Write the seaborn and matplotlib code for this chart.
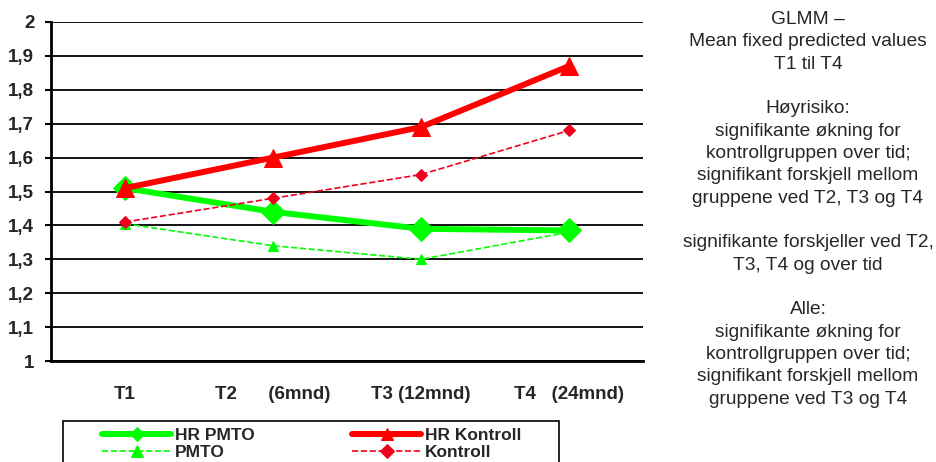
import numpy as np
import pandas as pd
import matplotlib
matplotlib.use("Agg")
import matplotlib.pyplot as plt
from matplotlib.patches import Rectangle
import seaborn as sns

# data
times = ["T1", "T2", "T3", "T4"]
tick_labels = ["T1", "T2      (6mnd)", "T3 (12mnd)", "T4   (24mnd)"]
hr_pmto = [1.51, 1.44, 1.39, 1.385]
pmto = [1.405, 1.34, 1.30, 1.38]
hr_kontroll = [1.51, 1.60, 1.69, 1.87]
kontroll = [1.41, 1.48, 1.55, 1.68]

note = ("GLMM \u2013\nMean fixed predicted values\nT1 til T4\n\n"
        "H\u00f8yrisiko:\nsignifikante \u00f8kning for\nkontrollgruppen over tid;\n"
        "signifikant forskjell mellom\ngruppene ved T2, T3 og T4\n\n"
        "signifikante forskjeller ved T2,\nT3, T4 og over tid\n\n"
        "Alle:\nsignifikante \u00f8kning for\nkontrollgruppen over tid;\n"
        "signifikant forskjell mellom\ngruppene ved T3 og T4")

sns.set_style("white")
plt.rcParams['font.family'] = ['Liberation Sans', 'DejaVu Sans']

fig = plt.figure(figsize=(9.37, 4.62), dpi=100)
ax = fig.add_axes([51/937, 1-361/462, 592/937, 339/462])

x = np.arange(len(times))
green = "#00FF00"
red = "#FF0000"

# order: column-major for 2-col legend
series = [
    ("HR PMTO", hr_pmto, green, "-", 4.3, "D", 12),
    ("PMTO", pmto, green, "--", 1.2, "^", 7.5),
    ("HR Kontroll", hr_kontroll, red, "-", 4.3, "^", 13),
    ("Kontroll", kontroll, "#F0001C", "--", 1.2, "D", 6),
]
for name, vals, col, ls, lw, mk, ms in series:
    df = pd.DataFrame({"x": x, "y": vals})
    sns.lineplot(data=df, x="x", y="y", ax=ax, color=col, linestyle=ls,
                 linewidth=lw, marker=mk, markersize=ms, markeredgecolor=col,
                 label=name, zorder=3)

ax.set_xlim(-0.5, 3.5)
ax.set_ylim(1, 2)
yt = np.arange(1, 2.01, 0.1)
ax.set_yticks(yt)
ax.set_yticklabels([f"{v:.1f}".replace(".", ",").replace(",0", "") for v in yt],
                   fontsize=13.5, fontweight="bold")
ax.set_xticks(x)
ax.set_xticklabels(tick_labels, fontsize=13.5, fontweight="bold")
ax.set_xticks([0.5, 1.5, 2.5], minor=True)
ax.tick_params(axis="x", which="major", length=0, pad=18)
ax.tick_params(axis="x", which="minor", length=5, width=1.5, color="black", direction="out")
ax.tick_params(axis="y", length=4, width=1.5, color="black", direction="out", left=True, pad=8)
ax.set_xlabel("")
ax.set_ylabel("")
ax.grid(axis="y", color="black", linewidth=1.3)
ax.set_axisbelow(True)
for side in ["top", "right"]:
    ax.spines[side].set_visible(False)
ax.spines["left"].set_color("black")
ax.spines["left"].set_linewidth(2)
ax.spines["bottom"].set_color("black")
ax.spines["bottom"].set_linewidth(2)

# legend, frame drawn separately (it runs off the bottom edge)
leg = ax.legend(loc="upper left", ncol=2,
                bbox_to_anchor=(102/937, 1-428/462),
                bbox_transform=fig.transFigure, frameon=False,
                handlelength=4.0, borderpad=0, borderaxespad=0,
                labelspacing=0.12, handletextpad=0.2, columnspacing=5.6,
                prop={"weight": "bold", "size": 12.5})
for h, ms in zip(leg.legend_handles, [7, 8, 8, 7]):
    h.set_markersize(ms)
    h.set_solid_capstyle("round")
fig.add_artist(Rectangle((63/937, -0.05), (559-63)/937, 0.05 + 41/462,
                         transform=fig.transFigure, fill=False,
                         edgecolor="black", linewidth=1.2))

fig.text(808/937, 1-11/462, note, ha="center", va="top", fontsize=13.8,
         linespacing=1.41)

fig.savefig("out.png", dpi=100)
